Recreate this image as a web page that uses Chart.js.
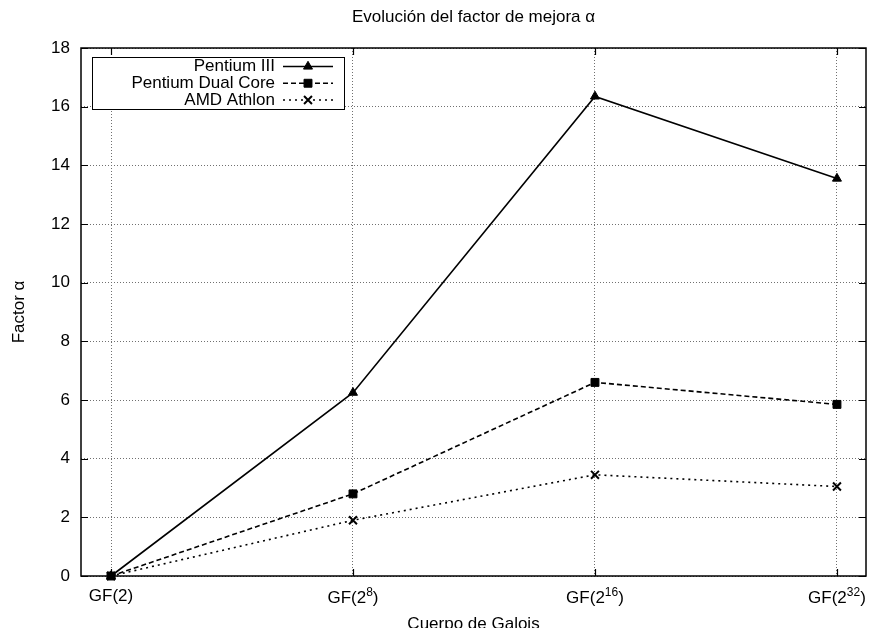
<!DOCTYPE html>
<html><head><meta charset="utf-8">
<script src="https://cdn.jsdelivr.net/npm/chart.js@4/dist/chart.umd.min.js"></script>
<style>html,body{margin:0;padding:0;background:#fff}#wrap{width:869px;height:628px}</style>
</head><body><div id="wrap"><canvas id="c" width="869" height="628"></canvas></div>
<script>
// ---- data ----
const categories = ['GF(2)', 'GF(2^8)', 'GF(2^16)', 'GF(2^32)'];
const seriesNames = ['Pentium III', 'Pentium Dual Core', 'AMD Athlon'];
const pentiumIII = [0, 6.25, 16.35, 13.55];
const pentiumDualCore = [0, 2.8, 6.6, 5.85];
const amdAthlon = [0, 1.9, 3.45, 3.05];
const yTickStep = 2;
const yMin = 0, yMax = 18;
const chartTitle = 'Evolución del factor de mejora α';
const xTitle = 'Cuerpo de Galois';
const yTitle = 'Factor α';

const FONT = '"Liberation Sans", Arial, Helvetica, sans-serif';
const FS = 17;
Chart.defaults.font.family = FONT;
Chart.defaults.font.size = FS;
Chart.defaults.color = '#000';

const toXY = arr => arr.map((v, i) => ({x: i, y: v}));

const gnuplotDecor = {
  id: 'gnuplotDecor',
  afterDraw(chart) {
    const {ctx, chartArea: a, scales: {x, y}} = chart;
    ctx.save();
    ctx.setLineDash([]);
    ctx.strokeStyle = '#000';
    // frame
    ctx.lineWidth = 1.5;
    ctx.strokeRect(a.left, a.top, a.right - a.left, a.bottom - a.top);
    // inward ticks on all borders
    const tl = 7;
    ctx.lineWidth = 1.2;
    ctx.beginPath();
    y.ticks.forEach(t => {
      const py = Math.round(y.getPixelForValue(t.value)) + 0.5;
      ctx.moveTo(a.left, py); ctx.lineTo(a.left + tl, py);
      ctx.moveTo(a.right, py); ctx.lineTo(a.right - tl, py);
    });
    x.ticks.forEach(t => {
      const px = Math.round(x.getPixelForValue(t.value)) + 0.5;
      ctx.moveTo(px, a.bottom); ctx.lineTo(px, a.bottom - tl);
      ctx.moveTo(px, a.top); ctx.lineTo(px, a.top + tl);
    });
    ctx.stroke();

    // x tick labels with superscripts
    ctx.fillStyle = '#000';
    ctx.textBaseline = 'alphabetic';
    const mainFont = `${FS}px ${FONT}`;
    const supFont = `${Math.round(FS * 0.7)}px ${FONT}`;
    x.ticks.forEach(t => {
      const lab = categories[t.value];
      if (lab === undefined) return;
      const px = x.getPixelForValue(t.value);
      const m = lab.match(/^(.*?)\^(\d+)(.*)$/);
      if (!m) {
        ctx.font = mainFont; ctx.textAlign = 'center';
        ctx.fillText(lab, px, a.bottom + 25);
      } else {
        const pre = m[1], sup = m[2], post = m[3];
        ctx.font = mainFont;
        const w1 = ctx.measureText(pre).width, w3 = ctx.measureText(post).width;
        ctx.font = supFont;
        const w2 = ctx.measureText(sup).width;
        let sx = px - (w1 + w2 + w3) / 2;
        const base = a.bottom + 27;
        ctx.textAlign = 'left';
        ctx.font = mainFont; ctx.fillText(pre, sx, base);
        ctx.font = supFont; ctx.fillText(sup, sx + w1, base - 7);
        ctx.font = mainFont; ctx.fillText(post, sx + w1 + w2, base);
      }
    });

    // legend box (gnuplot key style)
    const lx = a.left + 11, ly = a.top + 9, lw = 252, lh = 52;
    ctx.fillStyle = '#fff';
    ctx.fillRect(lx, ly, lw, lh);
    ctx.strokeStyle = '#000';
    ctx.lineWidth = 1;
    ctx.strokeRect(lx + 0.5, ly + 0.5, lw, lh);
    chart.data.datasets.forEach((ds, i) => {
      const ry = ly + 9.5 + i * 16.75;
      ctx.fillStyle = '#000';
      ctx.font = mainFont; ctx.textAlign = 'right'; ctx.textBaseline = 'middle';
      ctx.fillText(ds.label, lx + 183, ry);
      ctx.strokeStyle = '#000';
      ctx.lineWidth = ds.borderWidth;
      ctx.setLineDash(ds.borderDash || []);
      ctx.beginPath(); ctx.moveTo(lx + 191, ry); ctx.lineTo(lx + 241, ry); ctx.stroke();
      ctx.setLineDash([]);
      ctx.lineWidth = ds.pointBorderWidth;
      Chart.helpers.drawPoint(ctx, {pointStyle: ds.pointStyle, radius: ds.pointRadius, borderWidth: ds.pointBorderWidth, rotation: 0}, lx + 216, ry);
    });
    ctx.restore();
  }
};

const mkDs = (label, arr, dash, style, radius, pbw) => ({
  label, data: toXY(arr),
  borderColor: '#000', backgroundColor: '#000',
  borderWidth: 1.6, borderDash: dash,
  pointStyle: style, pointRadius: radius, pointBorderWidth: pbw,
  pointBackgroundColor: '#000', pointBorderColor: '#000',
  tension: 0, clip: false
});

new Chart(document.getElementById('c'), {
  type: 'line',
  data: {
    datasets: [
      mkDs(seriesNames[0], pentiumIII, [], 'triangle', 5.2, 1),
      mkDs(seriesNames[1], pentiumDualCore, [5, 3], 'rect', 5.6, 1),
      mkDs(seriesNames[2], amdAthlon, [2, 4], 'crossRot', 5.6, 2)
    ]
  },
  options: {
    responsive: false, animation: false, devicePixelRatio: 1,
    layout: {autoPadding: false, padding: {left: 0, right: 3, top: 0, bottom: 0}},
    plugins: {
      legend: {display: false},
      tooltip: {enabled: false},
      title: {
        display: true, text: chartTitle, fullSize: false, color: '#000',
        font: {family: FONT, size: FS, weight: 'normal', lineHeight: 1.2},
        padding: {top: 7, bottom: 20.6}
      }
    },
    scales: {
      x: {
        type: 'linear', min: -0.124, max: 3.12,
        afterBuildTicks: s => { s.ticks = categories.map((c, i) => ({value: i})); },
        afterFit: s => { s.height = 52; },
        ticks: {display: false},
        grid: {color: '#707070', lineWidth: 1, drawTicks: false},
        border: {display: false, dash: [1, 2]},
        title: {display: true, text: xTitle, color: '#000', font: {family: FONT, size: FS, lineHeight: 1}, padding: {top: 0, bottom: -5}}
      },
      y: {
        min: yMin, max: yMax,
        afterFit: s => { s.width = 81; },
        ticks: {stepSize: yTickStep, color: '#000', padding: 11, font: {family: FONT, size: FS}},
        grid: {color: '#707070', lineWidth: 1, drawTicks: false},
        border: {display: false, dash: [1, 2]},
        title: {display: true, text: yTitle, color: '#000', font: {family: FONT, size: FS, lineHeight: 1}, padding: {top: 11, bottom: 0}}
      }
    }
  },
  plugins: [gnuplotDecor]
});
</script>
</body></html>
